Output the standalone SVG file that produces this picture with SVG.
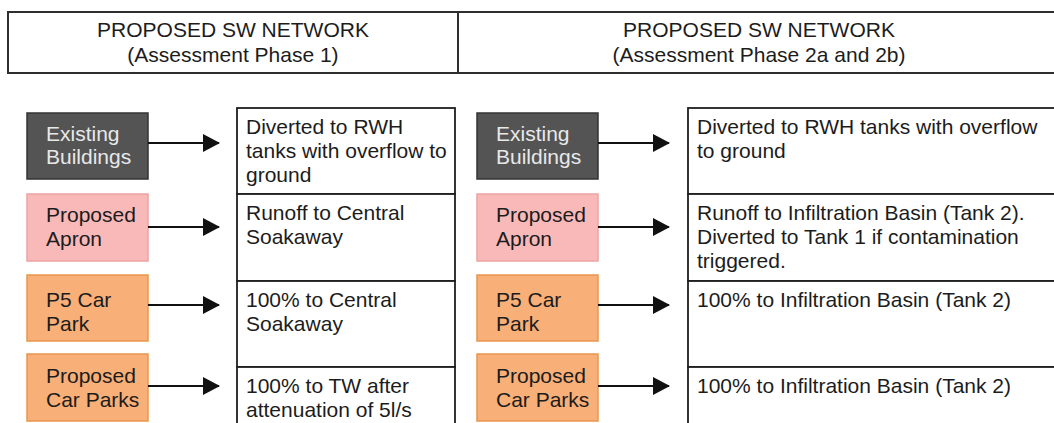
<svg xmlns="http://www.w3.org/2000/svg" width="1054" height="423" viewBox="0 0 1054 423">
<style>
text{font-family:"Liberation Sans",Arial,sans-serif;font-size:21px;fill:#1c1c1c}
.hd{text-anchor:middle}
.frame{fill:#fff;stroke:#2e2e2e;stroke-width:2}
.tb{fill:#fff;stroke:#1e1e1e;stroke-width:1.8}
.ex{fill:#545454;stroke:#333;stroke-width:1.5}
.ex-t{fill:#e8e8e8}
.ap{fill:#f9b9b9;stroke:#eea3a3;stroke-width:1.5}
.cp{fill:#f8af78;stroke:#e8974c;stroke-width:1.5}
.conn line{stroke:#111;stroke-width:2}
</style>
<defs>
<marker id="ah" markerWidth="17" markerHeight="18" refX="16" refY="9" orient="auto" markerUnits="userSpaceOnUse">
<path d="M0,0 L17,9 L0,18 Z" fill="#111"/>
</marker>
</defs>
<rect width="1054" height="423" fill="#fff"/>
<g id="header">
<rect class="frame" x="8" y="12" width="1056" height="61"/>
<line x1="458" y1="12" x2="458" y2="73" stroke="#2e2e2e" stroke-width="2"/>
<text class="hd" x="233" y="37">PROPOSED SW NETWORK</text>
<text class="hd" x="233" y="62">(Assessment Phase 1)</text>
<text class="hd" x="759" y="37">PROPOSED SW NETWORK</text>
<text class="hd" x="759" y="62">(Assessment Phase 2a and 2b)</text>
</g>
<!-- Phase 1 sources -->
<g id="p1-existing-buildings"><rect class="ex" x="27" y="113" width="121" height="66"/><text class="ex-t" x="46" y="141">Existing</text><text class="ex-t" x="46" y="164">Buildings</text></g>
<g id="p1-proposed-apron"><rect class="ap" x="27" y="194" width="121" height="67"/><text x="46" y="222">Proposed</text><text x="46" y="246">Apron</text></g>
<g id="p1-p5-car-park"><rect class="cp" x="27" y="275" width="121" height="66"/><text x="46" y="307">P5 Car</text><text x="46" y="331">Park</text></g>
<g id="p1-proposed-car-parks"><rect class="cp" x="27" y="354" width="121" height="67"/><text x="46" y="383">Proposed</text><text x="46" y="407">Car Parks</text></g>
<!-- Phase 1 outcomes -->
<g id="p1-out-1"><rect class="tb" x="237" y="108" width="218" height="86"/><text x="246" y="134">Diverted to RWH</text><text x="246" y="158">tanks with overflow to</text><text x="246" y="182">ground</text></g>
<g id="p1-out-2"><rect class="tb" x="237" y="194" width="218" height="87"/><text x="246" y="220">Runoff to Central</text><text x="246" y="244">Soakaway</text></g>
<g id="p1-out-3"><rect class="tb" x="237" y="281" width="218" height="86"/><text x="246" y="307">100% to Central</text><text x="246" y="331">Soakaway</text></g>
<g id="p1-out-4"><rect class="tb" x="237" y="367" width="218" height="70"/><text x="246" y="393">100% to TW after</text><text x="246" y="417">attenuation of 5l/s</text></g>
<!-- Phase 2 sources -->
<g id="p2-existing-buildings"><rect class="ex" x="477" y="113" width="121" height="66"/><text class="ex-t" x="496" y="141">Existing</text><text class="ex-t" x="496" y="164">Buildings</text></g>
<g id="p2-proposed-apron"><rect class="ap" x="477" y="194" width="121" height="67"/><text x="496" y="222">Proposed</text><text x="496" y="246">Apron</text></g>
<g id="p2-p5-car-park"><rect class="cp" x="477" y="275" width="121" height="66"/><text x="496" y="307">P5 Car</text><text x="496" y="331">Park</text></g>
<g id="p2-proposed-car-parks"><rect class="cp" x="477" y="354" width="121" height="67"/><text x="496" y="383">Proposed</text><text x="496" y="407">Car Parks</text></g>
<!-- Phase 2 outcomes -->
<g id="p2-out-1"><rect class="tb" x="688" y="108" width="380" height="86"/><text x="697" y="134">Diverted to RWH tanks with overflow</text><text x="697" y="158">to ground</text></g>
<g id="p2-out-2"><rect class="tb" x="688" y="194" width="380" height="87"/><text x="697" y="220">Runoff to Infiltration Basin (Tank 2).</text><text x="697" y="244">Diverted to Tank 1 if contamination</text><text x="697" y="268">triggered.</text></g>
<g id="p2-out-3"><rect class="tb" x="688" y="281" width="380" height="86"/><text x="697" y="307">100% to Infiltration Basin (Tank 2)</text></g>
<g id="p2-out-4"><rect class="tb" x="688" y="367" width="380" height="70"/><text x="697" y="393">100% to Infiltration Basin (Tank 2)</text></g>
<g id="connectors" class="conn">
<line x1="148" y1="143" x2="219" y2="143" marker-end="url(#ah)"/>
<line x1="148" y1="227" x2="219" y2="227" marker-end="url(#ah)"/>
<line x1="148" y1="305" x2="219" y2="305" marker-end="url(#ah)"/>
<line x1="148" y1="386" x2="219" y2="386" marker-end="url(#ah)"/>
<line x1="598" y1="143" x2="669" y2="143" marker-end="url(#ah)"/>
<line x1="598" y1="227" x2="669" y2="227" marker-end="url(#ah)"/>
<line x1="598" y1="305" x2="669" y2="305" marker-end="url(#ah)"/>
<line x1="598" y1="386" x2="669" y2="386" marker-end="url(#ah)"/>
</g>
</svg>
